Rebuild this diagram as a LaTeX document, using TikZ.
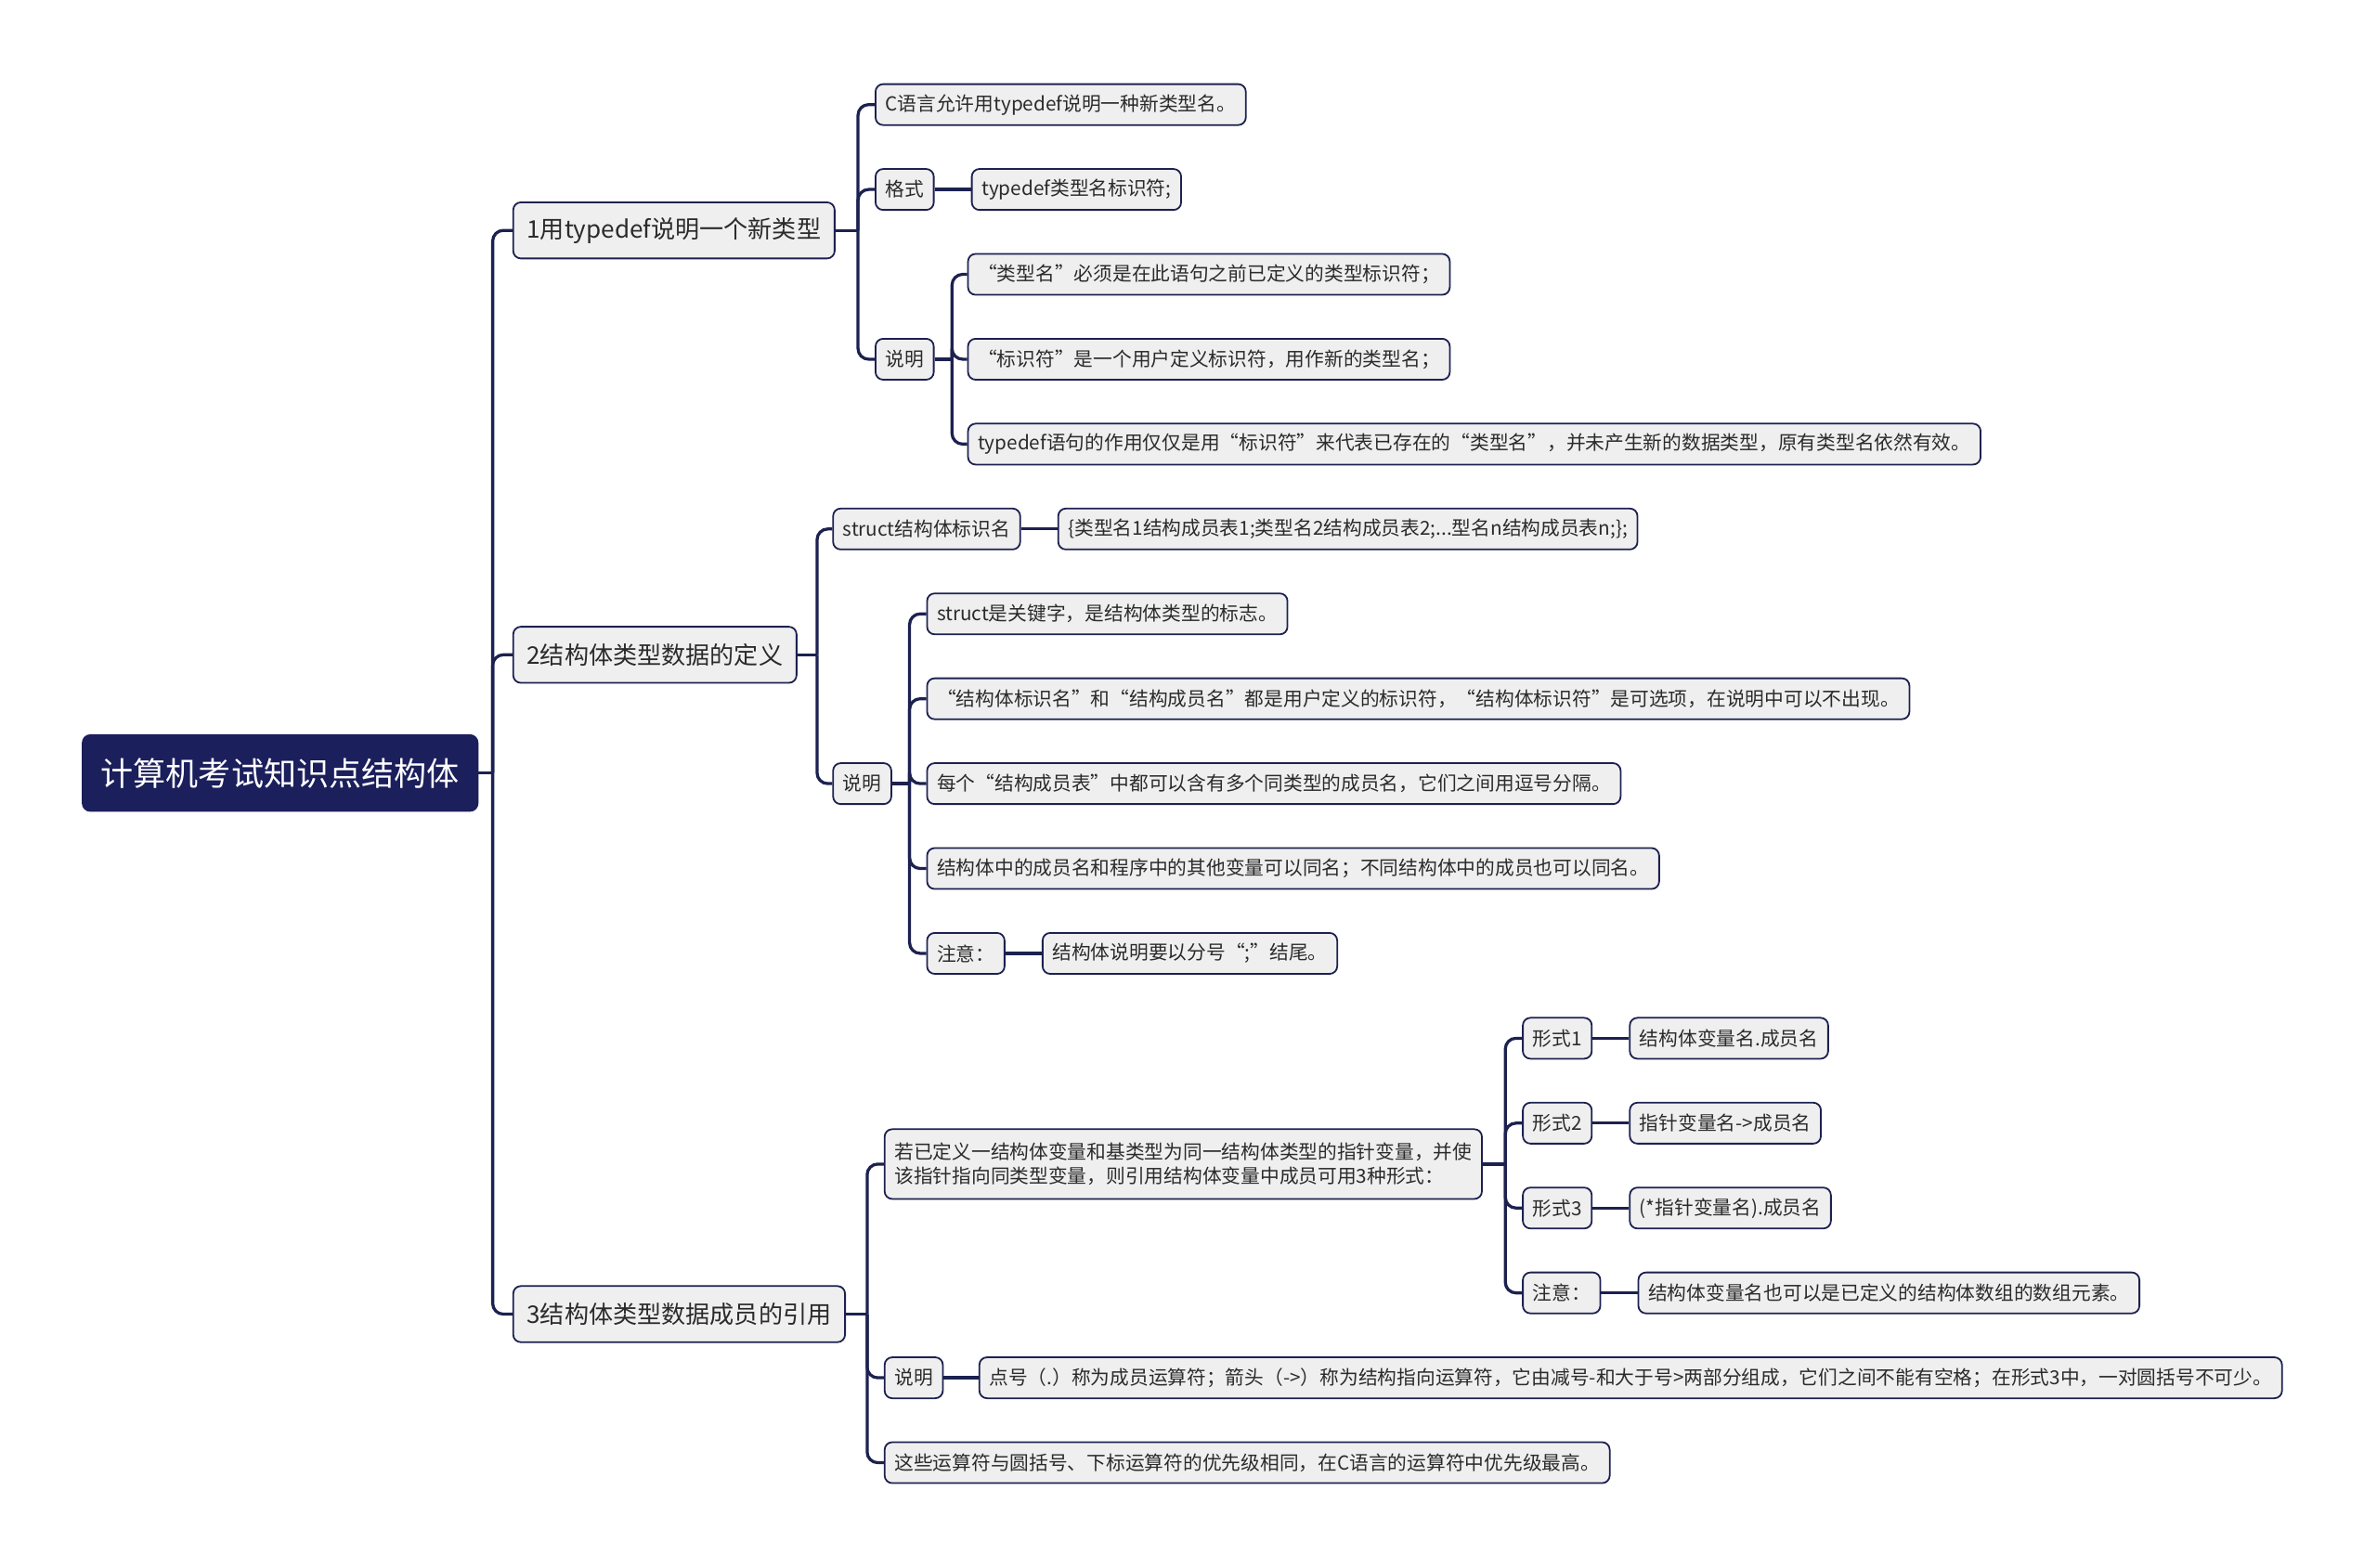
\documentclass[tikz,border=0pt]{standalone}
\usepackage{fontspec}
\setmainfont{Noto Sans CJK SC}
\usetikzlibrary{positioning}
\definecolor{navy}  {HTML}{1B1F5C}
\definecolor{edge}  {HTML}{1C2150}
\definecolor{boxbg} {HTML}{EFEFEF}
\definecolor{ink}   {HTML}{2B2B2B}
\tikzset{
  leaf/.style   ={draw=edge, fill=boxbg, line width=1.1pt, rounded corners=5pt,
                  minimum height=27pt, inner xsep=6.5pt, inner ysep=4pt,
                  font=\fontsize{12.7}{16}\selectfont, text=ink, anchor=west},
  topic/.style  ={leaf, minimum height=37pt, inner xsep=9pt,
                  font=\fontsize{16}{19}\selectfont},
  rootbox/.style={leaf, draw=navy, fill=navy, text=white, minimum height=50pt,
                  inner xsep=12pt, font=\fontsize{21.5}{25}\selectfont},
  link/.style   ={draw=edge, line width=2pt, rounded corners=7pt},
}

\begin{document}
\begin{tikzpicture}[x=1pt,y=-1pt]
  \useasboundingbox (0,0) rectangle (1568,1034);

  \node[rootbox] (root) at (54,510) {计算机考试知识点结构体};

  \node[topic] (t1) at (338,152) {1用typedef说明一个新类型};
  \node[topic] (t2) at (338,432) {2结构体类型数据的定义};
  \node[topic] (t3) at (338,867) {3结构体类型数据成员的引用};

  % 1 typedef
  \node[leaf] (a1) at (577,69)  {C语言允许用typedef说明一种新类型名。};
  \node[leaf] (a2) at (577,125) {格式};
  \node[leaf] (a3) at (577,237) {说明};
  \node[leaf,right=24pt of a2] (a2x) {typedef类型名标识符;};
  \node[leaf] (a31) at (638,181) {“类型名”必须是在此语句之前已定义的类型标识符；};
  \node[leaf] (a32) at (638,237) {“标识符”是一个用户定义标识符，用作新的类型名；};
  \node[leaf] (a33) at (638,293) {typedef语句的作用仅仅是用“标识符”来代表已存在的“类型名”，并未产生新的数据类型，原有类型名依然有效。};

  % 2 struct definition
  \node[leaf] (b1) at (549,349) {struct结构体标识名};
  \node[leaf] (b2) at (549,517) {说明};
  \node[leaf,right=24pt of b1] (b1x) {\{类型名1结构成员表1;类型名2结构成员表2;...型名n结构成员表n;\};};
  \node[leaf] (b21) at (611,405) {struct是关键字，是结构体类型的标志。};
  \node[leaf] (b22) at (611,461) {“结构体标识名”和“结构成员名”都是用户定义的标识符，“结构体标识符”是可选项，在说明中可以不出现。};
  \node[leaf] (b23) at (611,517) {每个“结构成员表”中都可以含有多个同类型的成员名，它们之间用逗号分隔。};
  \node[leaf] (b24) at (611,573) {结构体中的成员名和程序中的其他变量可以同名；不同结构体中的成员也可以同名。};
  \node[leaf] (b25) at (611,629) {注意：};
  \node[leaf,right=24pt of b25] (b25x) {结构体说明要以分号“;”结尾。};

  % 3 member access
  \node[leaf,align=left,minimum height=46pt] (c1) at (583,768)
    {若已定义一结构体变量和基类型为同一结构体类型的指针变量，并使\\该指针指向同类型变量，则引用结构体变量中成员可用3种形式：};
  \node[leaf] (c2) at (583,909) {说明};
  \node[leaf] (c3) at (583,965) {这些运算符与圆括号、下标运算符的优先级相同，在C语言的运算符中优先级最高。};
  \node[leaf,right=23pt of c2] (c2x) {点号（.）称为成员运算符；箭头（->）称为结构指向运算符，它由减号-和大于号>两部分组成，它们之间不能有空格；在形式3中，一对圆括号不可少。};
  \node[leaf] (c11) at (1004,685) {形式1};
  \node[leaf] (c12) at (1004,741) {形式2};
  \node[leaf] (c13) at (1004,797) {形式3};
  \node[leaf] (c14) at (1004,853) {注意：};
  \node[leaf,right=24pt of c11] (c11x) {结构体变量名.成员名};
  \node[leaf,right=24pt of c12] (c12x) {指针变量名->成员名};
  \node[leaf,right=24pt of c13] (c13x) {(*指针变量名).成员名};
  \node[leaf,right=24pt of c14] (c14x) {结构体变量名也可以是已定义的结构体数组的数组元素。};

  % spines
  \coordinate (s0)  at (325,510);
  \coordinate (s1)  at (566,152);
  \coordinate (s13) at (628,237);
  \coordinate (s2)  at (539,432);
  \coordinate (s22) at (600,517);
  \coordinate (s3)  at (572,867);
  \coordinate (s31) at (993,768);

  \draw[link] (root.east) -- (s0);
  \foreach \n in {t1,t2,t3} \draw[link] (s0) |- (\n.west);
  \draw[link] (t1.east) -- (s1);
  \foreach \n in {a1,a2,a3} \draw[link] (s1) |- (\n.west);
  \draw[link] (a3.east) -- (s13);
  \foreach \n in {a31,a32,a33} \draw[link] (s13) |- (\n.west);
  \draw[link] (t2.east) -- (s2);
  \foreach \n in {b1,b2} \draw[link] (s2) |- (\n.west);
  \draw[link] (b2.east) -- (s22);
  \foreach \n in {b21,b22,b23,b24,b25} \draw[link] (s22) |- (\n.west);
  \draw[link] (t3.east) -- (s3);
  \foreach \n in {c1,c2,c3} \draw[link] (s3) |- (\n.west);
  \draw[link] (c1.east) -- (s31);
  \foreach \n in {c11,c12,c13,c14} \draw[link] (s31) |- (\n.west);

  \draw[link] (a2.east) -- (a2x.west);
  \draw[link] (b1.east) -- (b1x.west);
  \draw[link] (b25.east) -- (b25x.west);
  \draw[link] (c2.east) -- (c2x.west);
  \foreach \n in {c11,c12,c13,c14} \draw[link] (\n.east) -- (\n x.west);
\end{tikzpicture}
\end{document}
